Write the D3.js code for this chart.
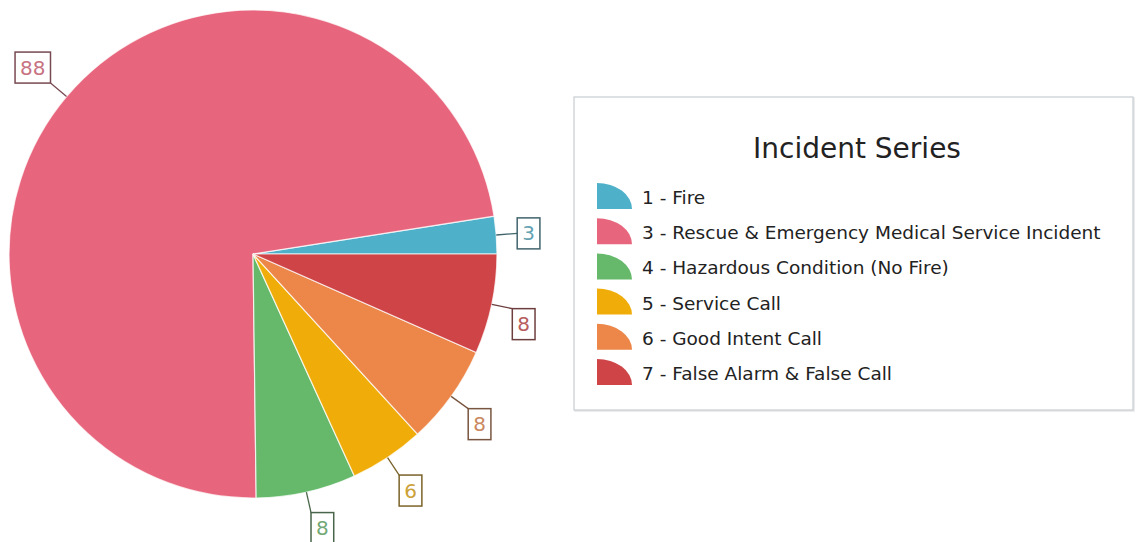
<!DOCTYPE html>
<html>
<head>
<meta charset="utf-8">
<script src="https://cdn.jsdelivr.net/npm/d3@7"></script>
<style>
  html, body { margin: 0; padding: 0; background: #ffffff; }
  svg { display: block; }
</style>
</head>
<body>
<svg id="chart" width="1138" height="542"></svg>
<script>
const categories = [
  "1 - Fire",
  "3 - Rescue & Emergency Medical Service Incident",
  "4 - Hazardous Condition (No Fire)",
  "5 - Service Call",
  "6 - Good Intent Call",
  "7 - False Alarm & False Call"
];
const values = [3, 88, 8, 6, 8, 8];
const colors = ["#4fb1c9", "#e8667d", "#66b96b", "#f0ad0a", "#ec8749", "#cf4547"];
const legendTitle = "Incident Series";

const svg = d3.select("#chart");
const W = 1138, H = 542;
const cx = 253, cy = 254, R = 244;
const font = "'DejaVu Sans', Verdana, sans-serif";

const data = categories.map((c, i) => ({ name: c, value: values[i], color: colors[i] }));

const pie = d3.pie()
  .value(d => d.value)
  .sort(null)
  .startAngle(Math.PI / 2)
  .endAngle(Math.PI / 2 - 2 * Math.PI);

const arcs = pie(data);
const arc = d3.arc().innerRadius(0).outerRadius(R);

const g = svg.append("g").attr("transform", `translate(${cx},${cy})`);

g.selectAll("path.slice")
  .data(arcs)
  .join("path")
  .attr("class", "slice")
  .attr("d", arc)
  .attr("fill", d => d.data.color)
  .attr("stroke", "#ffffff")
  .attr("stroke-opacity", 0.75)
  .attr("stroke-width", 1.2);

// Labels
const lead = 21;
const labelFont = 20;
const boxH = 31;
arcs.forEach(a => {
  const mid = (a.startAngle + a.endAngle) / 2;
  const sx = Math.sin(mid), sy = -Math.cos(mid);
  const x0 = sx * R, y0 = sy * R;
  const x1 = sx * (R + lead), y1 = sy * (R + lead);
  const border = d3.interpolateRgb(a.data.color, "#3a3a3a")(0.65);
  const textCol = d3.interpolateRgb(a.data.color, "#8a8a8a")(0.35);
  const txt = String(a.data.value);
  const boxW = txt.length * labelFont * 0.636 + 10;
  let bx = sx >= 0 ? x1 : x1 - boxW;
  let by;
  if (Math.abs(sy) < 0.1) by = y1 - boxH / 2;
  else by = sy > 0 ? y1 : y1 - boxH;
  if (Math.abs(sx) < 0.1) bx = x1 - boxW / 2;

  g.append("line")
    .attr("x1", x0).attr("y1", y0)
    .attr("x2", x1).attr("y2", y1)
    .attr("stroke", border).attr("stroke-width", 1.3);
  g.append("rect")
    .attr("x", bx).attr("y", by)
    .attr("width", boxW).attr("height", boxH)
    .attr("fill", "#ffffff")
    .attr("stroke", border).attr("stroke-width", 1.5);
  g.append("text")
    .attr("x", bx + boxW / 2).attr("y", by + boxH / 2)
    .attr("text-anchor", "middle")
    .attr("dominant-baseline", "central")
    .attr("font-family", font)
    .attr("font-size", labelFont)
    .attr("fill", textCol)
    .text(txt);
});

// Legend
const lx = 574, ly = 97, lw = 559, lh = 313;
const lg = svg.append("g");
lg.append("rect")
  .attr("x", lx + 1).attr("y", ly + 1)
  .attr("width", lw).attr("height", lh)
  .attr("fill", "none").attr("stroke", "#e6e6e6").attr("stroke-width", 1.5);
lg.append("rect")
  .attr("x", lx).attr("y", ly)
  .attr("width", lw).attr("height", lh)
  .attr("fill", "#ffffff").attr("stroke", "#c9ced2").attr("stroke-width", 1.2);

lg.append("text")
  .attr("x", 857).attr("y", 158)
  .attr("text-anchor", "middle")
  .attr("font-family", font)
  .attr("font-size", 28)
  .attr("fill", "#222222")
  .text(legendTitle);

const items = lg.selectAll("g.item")
  .data(data)
  .join("g")
  .attr("class", "item")
  .attr("transform", (d, i) => `translate(597,${204 + i * 35.2})`);

const iw = 35, ih = 26;
items.append("path")
  .attr("d", `M0,5 L0,${5 - ih} A${iw},${ih} 0 0 1 ${iw},5 Z`)
  .attr("fill", d => d.color);

items.append("text")
  .attr("x", 45).attr("y", 0)
  .attr("font-family", font)
  .attr("font-size", 18.5)
  .attr("fill", "#222222")
  .text(d => d.name);
</script>
</body>
</html>
